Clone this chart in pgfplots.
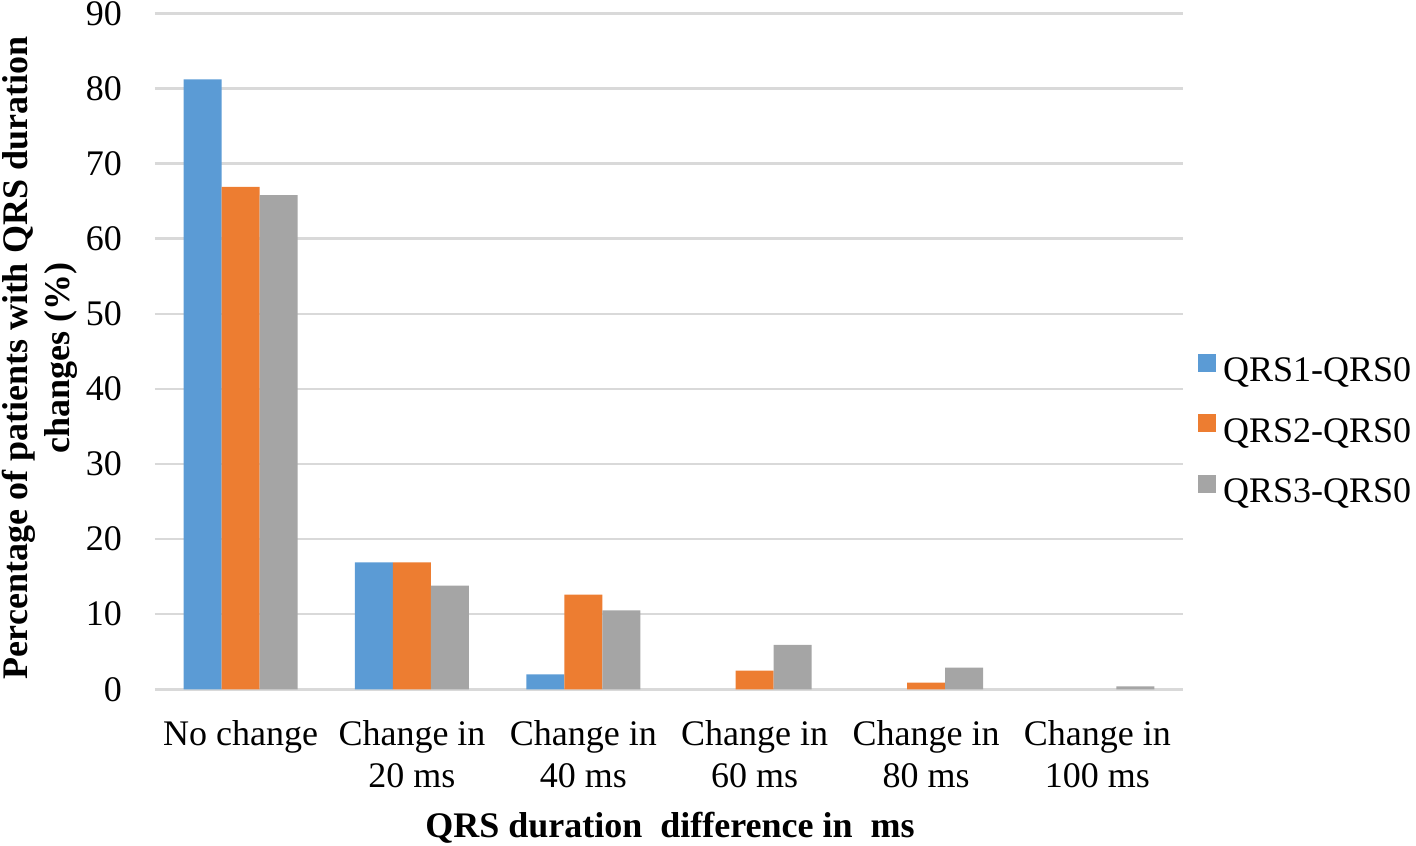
\documentclass[border=0pt]{standalone}
\usepackage{fontspec}
\setmainfont{Liberation Serif}
\usepackage{pgfplots}
\pgfplotsset{compat=1.18}
\definecolor{cblue}{HTML}{5B9BD5}
\definecolor{corange}{HTML}{ED7D31}
\definecolor{cgray}{HTML}{A5A5A5}
\definecolor{cgrid}{HTML}{D9D9D9}
\newcommand{\tf}{\fontsize{18bp}{21bp}\selectfont}
\newcommand{\lf}{\fontsize{18bp}{20bp}\selectfont\bfseries}
\newcommand{\yf}{\fontsize{18bp}{21bp}\selectfont\bfseries}
\begin{document}
\begin{tikzpicture}
\path[use as bounding box] (-77.5bp,-78.35bp) rectangle (630.5bp,344.65bp);
\begin{axis}[
  at={(0,0)}, anchor=south west,
  scale only axis,
  width=514bp, height=338bp,
  ybar=0pt, bar width=19bp,
  xmin=-0.5, xmax=5.5,
  ymin=0, ymax=90,
  ytick={0,10,...,90},
  xtick={0,1,2,3,4,5},
  xticklabels={No change,{Change in\\20 ms},{Change in\\40 ms},{Change in\\60 ms},{Change in\\80 ms},{Change in\\100 ms}},
  axis line style={draw=none},
  major tick length=0pt,
  ymajorgrids,
  grid style={cgrid, line width=1.2bp},
  /pgf/number format/assume math mode=true,
  tick label style={font=\tf},
  yticklabel style={anchor=east, xshift=-13bp},
  xticklabel style={align=center, anchor=north, yshift=-12bp},
  xlabel={QRS duration \ difference in \ ms},
  xlabel style={font=\lf, at={(axis description cs:0.501,-0.2185)}, anchor=base},
  ylabel={Percentage of patients with QRS duration\\changes (\%)},
  ylabel style={font=\yf, align=center, at={(axis description cs:-0.1118,0.49)}, anchor=center},
  legend style={draw=none, fill=none, font=\tf, at={(axis description cs:1.0142,0.38)}, anchor=west, inner sep=0pt, row sep=12.25bp,
    nodes={inner sep=0pt, text height=13bp, text depth=4bp}},
  legend cell align=left,
  legend image code/.code={\fill[#1] (0bp,0.5bp) rectangle (9bp,9.5bp);},
  /tikz/every odd column/.append style={column sep=3.5bp},
  clip=false,
]
\addplot[fill=cblue, draw=none] coordinates {(0,81.2) (1,16.9) (2,2.0)};
\addplot[fill=corange, draw=none] coordinates {(0,66.9) (1,16.9) (2,12.6) (3,2.5) (4,0.9)};
\addplot[fill=cgray, draw=none] coordinates {(0,65.8) (1,13.8) (2,10.5) (3,5.9) (4,2.9) (5,0.4)};
\legend{QRS1-QRS0,QRS2-QRS0,QRS3-QRS0}
\end{axis}
\end{tikzpicture}
\end{document}
